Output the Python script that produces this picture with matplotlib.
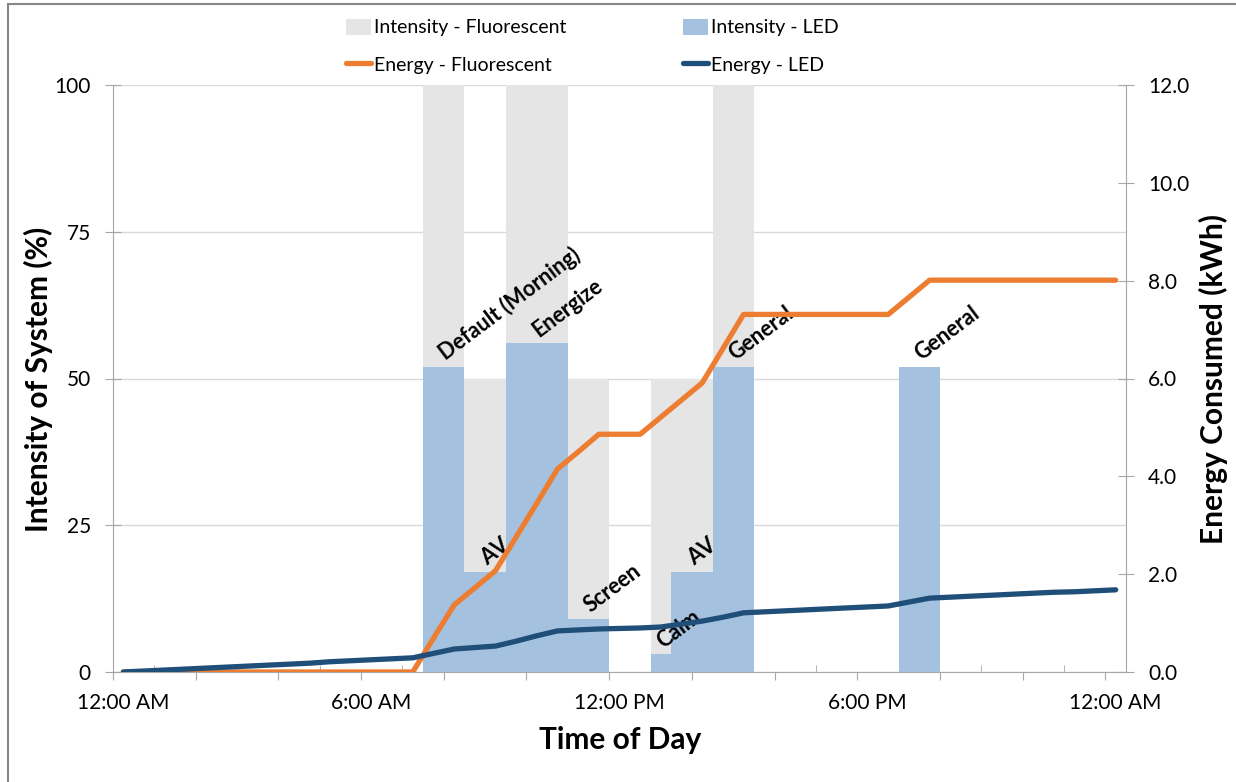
import numpy as np
import matplotlib
matplotlib.use("Agg")
import matplotlib.pyplot as plt
from matplotlib.patches import Patch
from matplotlib.lines import Line2D

# ---- data (half-hour categories from 12:00 AM to 12:00 AM) ----
hours = np.arange(0, 24.5, 0.5)

intensity_fluor = [0]*15 + [100, 100, 50, 50, 100, 100, 100, 50, 50, 0, 0,
                            50, 50, 50, 100, 100] + [0]*7 + [50, 50] + [0]*9
intensity_led = [0]*15 + [52, 52, 17, 17, 56, 56, 56, 9, 9, 0, 0,
                          3, 17, 17, 52, 52] + [0]*7 + [52, 52] + [0]*9

energy_fluor = [0]*15 + [0.69, 1.37, 1.72, 2.07, 2.76, 3.45, 4.15, 4.50, 4.86,
                         4.86, 4.86, 5.21, 5.56, 5.91, 6.61, 7.31,
                         7.31, 7.31, 7.31, 7.31, 7.31, 7.31, 7.31,
                         7.66, 8.01,
                         8.01, 8.01, 8.01, 8.01, 8.01, 8.01, 8.01, 8.01, 8.01]
energy_led = [0.00, 0.02, 0.04, 0.06, 0.08, 0.10, 0.12, 0.14, 0.16, 0.18,
              0.21, 0.23, 0.25, 0.27, 0.29,
              0.38, 0.47, 0.50, 0.53, 0.63, 0.74, 0.84, 0.86, 0.88,
              0.89, 0.90, 0.92, 0.98, 1.04, 1.12, 1.21,
              1.23, 1.25, 1.27, 1.29, 1.31, 1.33, 1.35,
              1.43, 1.51,
              1.53, 1.55, 1.57, 1.59, 1.61, 1.63, 1.64, 1.66, 1.68]

# mode labels: (text, hour of bar centre, LED intensity there)
mode_labels = [("Default (Morning)", 7.75, 52), ("AV", 8.75, 17),
               ("Energize", 10.0, 56), ("Screen", 11.25, 9),
               ("Calm", 13.0, 3), ("AV", 13.75, 17),
               ("General", 14.75, 52), ("General", 19.25, 52)]

time_ticks = [0, 6, 12, 18, 24]
time_labels = ["12:00 AM", "6:00 AM", "12:00 PM", "6:00 PM", "12:00 AM"]

# ---- style ----
FONT = ["Lato", "DejaVu Sans"]
plt.rcParams["font.family"] = FONT
C_GRAY = "#E5E5E5"
C_LBLUE = "#A4C2E0"
C_ORANGE = "#ED7D31"
C_DBLUE = "#1F4E79"
C_AXIS = "#A6A6A6"

W, H = 1236, 782
fig = plt.figure(figsize=(W/100, H/100), dpi=100)
L, R, T, B = 113, 1126, 85, 672
ax = fig.add_axes([L/W, 1-B/H, (R-L)/W, (B-T)/H])

ax.bar(hours, intensity_fluor, width=0.5, color=C_GRAY, zorder=2)
ax.bar(hours, intensity_led, width=0.5, color=C_LBLUE, zorder=3)

ax.set_xlim(-0.25, 24.25)
ax.set_ylim(0, 100)
ax.set_yticks([0, 25, 50, 75, 100])
ax.yaxis.grid(True, color="#D9D9D9", lw=1)
ax.set_axisbelow(True)

# tick marks (every hour) and labels (every 6 h)
ax.set_xticks(np.arange(-0.25, 24.3, 2.0), labels=[""]*13)
ax.set_xticks(np.arange(0.75, 24.3, 2.0), minor=True)
ax.tick_params(axis="x", which="major", direction="out", length=6, color=C_AXIS)
ax.tick_params(axis="x", which="minor", direction="in", length=5, color=C_AXIS)
sec = ax.secondary_xaxis("bottom")
sec.set_xticks(time_ticks, labels=time_labels)
sec.tick_params(length=0, pad=15, labelsize=15)
sec.spines["bottom"].set_visible(False)

ax.tick_params(axis="y", direction="inout", length=12, color=C_AXIS,
               labelsize=15, pad=10)
for s in ["top", "right"]:
    ax.spines[s].set_visible(False)
for s in ["left", "bottom"]:
    ax.spines[s].set_color(C_AXIS)

ax2 = ax.twinx()
ax2.plot(hours, energy_fluor, color=C_ORANGE, lw=3.8,
         solid_capstyle="round", solid_joinstyle="round", zorder=5)
ax2.plot(hours, energy_led, color=C_DBLUE, lw=3.8,
         solid_capstyle="round", solid_joinstyle="round", zorder=6)
ax2.set_ylim(0, 12)
ax2.set_yticks(np.arange(0, 12.1, 2))
ax2.yaxis.set_major_formatter(matplotlib.ticker.FormatStrFormatter("%.1f"))
ax2.tick_params(axis="y", direction="inout", length=12, color=C_AXIS,
                labelsize=15, pad=10)
for s in ["top", "left", "bottom"]:
    ax2.spines[s].set_visible(False)
ax2.spines["right"].set_color(C_AXIS)

# mode labels
for txt, xc, yv in mode_labels:
    ax.text(xc + 0.05, yv + 1.0, txt, rotation=37, rotation_mode="anchor",
            ha="left", va="baseline", fontsize=15.5, fontweight="bold",
            color="black", zorder=10)

# axis titles
fig.text(38/W, 1-379/H, "Intensity of System (%)", rotation=90,
         ha="center", va="center", fontsize=21.5, fontweight="bold")
fig.text(1213/W, 1-379/H, "Energy Consumed (kWh)", rotation=90,
         ha="center", va="center", fontsize=21.5, fontweight="bold")
fig.text(620/W, 1-740/H, "Time of Day", ha="center", va="center",
         fontsize=21.5, fontweight="bold")

# legends
LFONT = {"family": FONT, "size": 14}
h1 = [Patch(facecolor=C_GRAY, edgecolor="none"),
      Line2D([0], [0], color=C_ORANGE, lw=3.8, solid_capstyle="round")]
h2 = [Patch(facecolor=C_LBLUE, edgecolor="none"),
      Line2D([0], [0], color=C_DBLUE, lw=3.8, solid_capstyle="round")]
for hs, labs, x0 in [(h1, ["Intensity - Fluorescent", "Energy - Fluorescent"], 336),
                     (h2, ["Intensity - LED", "Energy - LED"], 673)]:
    fig.legend(hs, labs, loc="upper left", bbox_to_anchor=(x0/W, 1-9/H),
               frameon=False, prop=LFONT, handlelength=1.3, handleheight=0.9,
               handletextpad=0.15, labelspacing=1.0, borderpad=0)

# chart border (left & top visible)
fig.add_artist(Line2D([8/W, 8/W], [0, 1-4/H], color="#868686", lw=1.5))
fig.add_artist(Line2D([8/W, 1], [1-4/H, 1-4/H], color="#868686", lw=1.5))

fig.savefig("out.png", dpi=100)
